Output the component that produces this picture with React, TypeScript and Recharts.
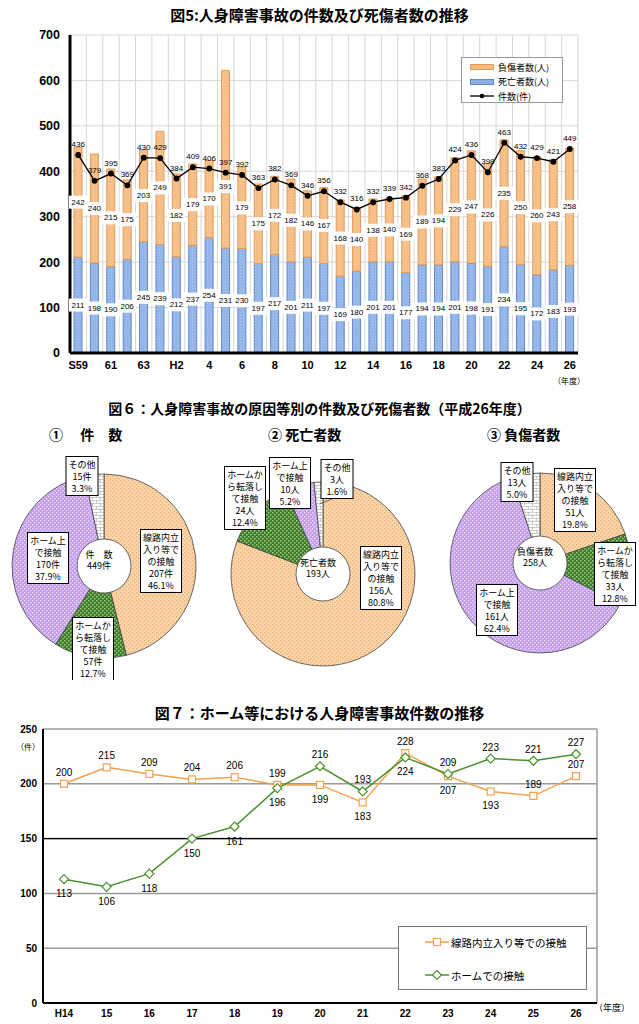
import React from "react";
import {
  ComposedChart,
  Bar,
  Line,
  XAxis,
  YAxis,
  CartesianGrid,
  Legend,
  LabelList,
  PieChart,
  Pie,
  Cell,
  LineChart,
  ReferenceLine,
} from "recharts";

document.body.style.margin = "0";

// ---- 図5 data ----
const years = [
  "S59", "60", "61", "62", "63", "H元", "H2", "3", "4", "5", "6", "7", "8", "9", "10", "11",
  "12", "13", "14", "15", "16", "17", "18", "19", "20", "21", "22", "23", "24", "25", "26",
];
const deaths = [211, 198, 190, 206, 245, 239, 212, 237, 254, 231, 230, 197, 217, 201, 211, 197, 169, 180, 201, 201, 177, 194, 194, 201, 198, 191, 234, 195, 172, 183, 193];
const injuries = [242, 240, 215, 175, 203, 249, 182, 179, 170, 391, 179, 175, 172, 182, 146, 167, 168, 140, 138, 140, 169, 189, 194, 229, 247, 226, 235, 250, 260, 243, 258];
const accidents = [436, 379, 395, 369, 430, 429, 384, 409, 406, 397, 392, 363, 382, 369, 346, 356, 332, 316, 332, 339, 342, 368, 383, 424, 436, 398, 463, 432, 429, 421, 449];

// ---- 図6 data ----
const causes = ["線路内立\n入り等で\nの接触", "ホームか\nら転落し\nて接触", "ホーム上\nで接触", "その他"];
const causeCount = [207, 57, 170, 15];
const causeDeaths = [156, 24, 10, 3];
const causeInjuries = [51, 33, 161, 13];

// ---- 図7 data ----
const years7 = ["H14", "15", "16", "17", "18", "19", "20", "21", "22", "23", "24", "25", "26"];
const trackContact = [200, 215, 209, 204, 206, 199, 199, 183, 228, 207, 193, 189, 207];
const platformContact = [113, 106, 118, 150, 161, 196, 216, 193, 224, 209, 223, 221, 227];

const data5 = years.map((y, i) => ({ year: y, deaths: deaths[i], injuries: injuries[i], accidents: accidents[i] }));
const data7 = years7.map((y, i) => ({ year: y, track: trackContact[i], platform: platformContact[i] }));
const pieCount = causes.map((c, i) => ({ name: c, value: causeCount[i] }));
const pieDeaths = causes.map((c, i) => ({ name: c, value: causeDeaths[i] }));
const pieInjuries = causes.map((c, i) => ({ name: c, value: causeInjuries[i] }));

const JP = '"Noto Sans CJK JP", sans-serif';
const LAT = '"Liberation Sans", Arial, "Noto Sans CJK JP", sans-serif';

const sliceFills = ["url(#pOrange)", "url(#pGreen)", "url(#pPurple)", "url(#pBrick)"];

// label box offsets from each pie centre
const pieLabelPos: Record<string, number[][]> = {
  count: [[57, -5], [-11, 83], [-56, -8], [-22, -90]],
  deaths: [[58, 4], [-78, -76], [-33, -91], [14, -95]],
  injuries: [[35, -63], [75, 11], [-43, 47], [-23, -81]],
};

const textWidth = (t: string) =>
  Array.from(t).reduce((s, ch) => s + (ch.charCodeAt(0) > 255 ? 9 : 5), 0);

const getXY = (p: any) => {
  const vb = p.viewBox || {};
  return {
    x: p.x ?? vb.x,
    y: p.y ?? vb.y,
    w: p.width ?? vb.width ?? 0,
    h: p.height ?? vb.height ?? 0,
  };
};

const drawBoxLabel = (cx: number, cy: number, value: any) => (
  <g>
    <rect x={cx - 9} y={cy - 6.5} width={18} height={13} fill="#fff" />
    <text x={cx} y={cy} textAnchor="middle" dominantBaseline="central" fontSize={8} fontFamily={LAT} fill="#000">
      {value}
    </text>
  </g>
);

const BoxLabel = (p: any) => {
  const { x, y, w, h } = getXY(p);
  return drawBoxLabel(x + w / 2, y + h / 2, p.value);
};

// injury labels: centred in the segment, pushed below the count line if they would collide
const InjuryLabel = (p: any) => {
  const { x, y, w, h } = getXY(p);
  const row = data5[p.index];
  let cy = y + h / 2;
  if (row && h > 0) {
    const perUnit = h / row.injuries;
    const lineY = y + h - (row.accidents - row.deaths) * perUnit;
    if (Math.abs(cy - lineY) < 18) cy = lineY + 14;
  }
  return drawBoxLabel(x + w / 2, cy, p.value);
};

const CountLabel = (p: any) => {
  const { x, y } = getXY(p);
  return (
    <text x={x} y={y - 8} textAnchor="middle" fontSize={8} fontFamily={LAT} fill="#000">
      {p.value}
    </text>
  );
};

const makePieLabel = (key: string, unit: string) => (p: any) => {
  const [dx, dy] = pieLabelPos[key][p.index];
  const lines = [...String(p.name).split("\n"), `${p.value}${unit}`, `${(p.percent * 100).toFixed(1)}%`];
  const lh = 12;
  const w = Math.max(...lines.map(textWidth)) + 5;
  const h = lines.length * lh + 3;
  const bx = p.cx + dx;
  const by = p.cy + dy;
  const RAD = Math.PI / 180;
  const lead = key === "deaths" && p.index === 3;
  return (
    <g key={`pl-${key}-${p.index}`}>
      {lead && (
        <line
          x1={p.cx + 70 * Math.cos(-p.midAngle * RAD)}
          y1={p.cy + 70 * Math.sin(-p.midAngle * RAD)}
          x2={bx - 4}
          y2={by + h / 2}
          stroke="#333"
          strokeWidth={0.7}
        />
      )}
      <rect x={bx - w / 2} y={by - h / 2} width={w} height={h} fill="#fff" stroke="#000" strokeWidth={1} />
      {lines.map((t, i) => (
        <text
          key={i}
          x={bx}
          y={by - h / 2 + 1.5 + lh * i + lh / 2}
          textAnchor="middle"
          dominantBaseline="central"
          fontSize={9}
          fontFamily={JP}
          fill="#000"
        >
          {t}
        </text>
      ))}
    </g>
  );
};

const SquareDot = (p: any) => (
  <rect key={`sq-${p.index}`} x={p.cx - 3.5} y={p.cy - 3.5} width={7} height={7} fill="#fff" stroke="#F0A24E" strokeWidth={1.2} />
);
const DiamondDot = (p: any) => (
  <path
    key={`dm-${p.index}`}
    d={`M${p.cx},${p.cy - 4.5}L${p.cx + 4.5},${p.cy}L${p.cx},${p.cy + 4.5}L${p.cx - 4.5},${p.cy}Z`}
    fill="#fff"
    stroke="#4A922E"
    strokeWidth={1.2}
  />
);

const trackAbove = new Set(["25", "26"]);

const makeLineLabel = (series: "track" | "platform") => (p: any) => {
  const { x, y } = getXY(p);
  const row = data7[p.index];
  const mine = row[series];
  const other = series === "track" ? row.platform : row.track;
  const above = mine >= other || (series === "track" && trackAbove.has(row.year));
  return (
    <text x={x} y={above ? y - 8 : y + 18} textAnchor="middle" fontSize={10} fontFamily={LAT} fill="#000">
      {p.value}
    </text>
  );
};

const legend5 = () => (
  <div style={{ width: 100, height: 44, border: "1px solid #999", background: "#fff", fontFamily: JP, fontSize: 9, position: "relative" }}>
    {[
      { t: "負傷者数(人)", kind: "o" },
      { t: "死亡者数(人)", kind: "b" },
      { t: "件数(件)", kind: "l" },
    ].map((r, i) => (
      <div key={i} style={{ position: "absolute", left: 8, top: 2 + i * 14.5, height: 14, display: "flex", alignItems: "center" }}>
        <svg width={24} height={8} style={{ marginRight: 4 }}>
          {r.kind === "o" && <rect x={0.5} y={1.5} width={23} height={5} fill="#F5BA80" stroke="#E59A55" />}
          {r.kind === "b" && <rect x={0.5} y={1.5} width={23} height={5} fill="#8CB0E6" stroke="#5F89CC" />}
          {r.kind === "l" && (
            <g>
              <line x1={0} y1={4} x2={24} y2={4} stroke="#000" strokeWidth={1.3} />
              <circle cx={12} cy={4} r={2.3} fill="#000" />
            </g>
          )}
        </svg>
        <span style={{ color: "#000" }}>{r.t}</span>
      </div>
    ))}
  </div>
);

const legend7 = () => (
  <div style={{ width: 187, height: 62, border: "1px solid #777", background: "#fff", fontFamily: JP, fontSize: 10.5, position: "relative" }}>
    {[
      { t: "線路内立入り等での接触", c: "#F0A24E", sq: true },
      { t: "ホームでの接触", c: "#4A922E", sq: false },
    ].map((r, i) => (
      <div key={i} style={{ position: "absolute", left: 26, top: 7 + i * 33, height: 16, display: "flex", alignItems: "center" }}>
        <svg width={24} height={12} style={{ marginRight: 2 }}>
          <line x1={0} y1={6} x2={24} y2={6} stroke={r.c} strokeWidth={1.5} />
          {r.sq ? (
            <rect x={8.5} y={2.5} width={7} height={7} fill="#fff" stroke={r.c} strokeWidth={1.2} />
          ) : (
            <path d="M12,1.5L16.5,6L12,10.5L7.5,6Z" fill="#fff" stroke={r.c} strokeWidth={1.2} />
          )}
        </svg>
        <span style={{ color: "#000" }}>{r.t}</span>
      </div>
    ))}
  </div>
);

const dotPattern = (id: string, bg: string, dot: string, size = 4, d = 1.3) => (
  <pattern id={id} width={size} height={size} patternUnits="userSpaceOnUse">
    <rect width={size} height={size} fill={bg} />
    <rect x={0} y={0} width={d} height={d} fill={dot} />
    <rect x={size / 2} y={size / 2} width={d} height={d} fill={dot} />
  </pattern>
);

const titleStyle = (top: number): React.CSSProperties => ({
  position: "absolute",
  top,
  left: 0,
  width: 639,
  textAlign: "center",
  fontFamily: JP,
  fontWeight: 700,
  fontSize: 15,
  lineHeight: "18px",
  color: "#000",
});

const abs = (left: number, top: number, extra: React.CSSProperties = {}): React.CSSProperties => ({
  position: "absolute",
  left,
  top,
  fontFamily: JP,
  color: "#000",
  whiteSpace: "nowrap",
  ...extra,
});

export default function App() {
  return (
    <div style={{ position: "relative", width: 639, height: 1024, background: "#fff", overflow: "hidden" }}>
      {/* 図5 */}
      <div style={titleStyle(6)}>図5:人身障害事故の件数及び死傷者数の推移</div>
      <div style={{ position: "absolute", left: 0, top: 0 }}>
        <ComposedChart width={639} height={392} data={data5} margin={{ top: 35, right: 61, bottom: 14, left: 0 }} barSize={8}>
          <defs>
            {dotPattern("bOrange", "#F5BA80", "#F9D3AC", 3, 1)}
            {dotPattern("bBlue", "#8CB0E6", "#B8CFF2", 3, 1)}
          </defs>
          <CartesianGrid
            stroke="#D6D6D6"
            verticalCoordinatesGenerator={({ offset }: any) =>
              years.map((_, i) => offset.left + (i * offset.width) / years.length).concat(offset.left + offset.width)
            }
          />
          <XAxis
            dataKey="year"
            interval={1}
            height={25}
            tickLine={false}
            axisLine={{ stroke: "#000", strokeWidth: 3 }}
            tick={{ fontSize: 11, fontWeight: 700, fill: "#000", fontFamily: LAT }}
          />
          <YAxis
            width={70}
            domain={[0, 700]}
            ticks={[0, 100, 200, 300, 400, 500, 600, 700]}
            tickLine={false}
            tickMargin={4}
            axisLine={{ stroke: "#000", strokeWidth: 3 }}
            tick={{ fontSize: 12.5, fontWeight: 700, fill: "#000", fontFamily: LAT }}
          />
          <Legend
            layout="vertical"
            align="center"
            verticalAlign="middle"
            content={legend5}
            wrapperStyle={{ left: 461, top: 57, width: 102, height: 46 }}
          />
          <Bar dataKey="deaths" stackId="a" fill="url(#bBlue)" stroke="#5F89CC" strokeWidth={1} isAnimationActive={false}>
            <LabelList dataKey="deaths" content={BoxLabel} />
          </Bar>
          <Bar dataKey="injuries" stackId="a" fill="url(#bOrange)" stroke="#E59A55" strokeWidth={1} isAnimationActive={false}>
            <LabelList dataKey="injuries" content={InjuryLabel} />
          </Bar>
          <Line
            dataKey="accidents"
            stroke="#000"
            strokeWidth={1.3}
            dot={{ r: 2.3, fill: "#000", stroke: "#000" }}
            isAnimationActive={false}
            label={CountLabel}
          />
        </ComposedChart>
      </div>
      <div style={abs(553, 375, { fontSize: 8 })}>（年度）</div>

      {/* 図6 */}
      <div style={{ ...titleStyle(399), fontSize: 14 }}>図６：人身障害事故の原因等別の件数及び死傷者数（平成26年度）</div>
      <div style={abs(49, 424, { fontSize: 14, fontWeight: 700 })}>①　&nbsp;件　数</div>
      <div style={abs(268, 424, { fontSize: 14, fontWeight: 700 })}>② 死亡者数</div>
      <div style={abs(487, 424, { fontSize: 14, fontWeight: 700 })}>③ 負傷者数</div>
      <div style={{ position: "absolute", left: 0, top: 440 }}>
        <PieChart width={639} height={240}>
          <defs>
            {dotPattern("pOrange", "#FBD6AA", "#E9AD70", 4, 1.3)}
            {dotPattern("pGreen", "#3E7B29", "#A4CF87", 4, 1.5)}
            {dotPattern("pPurple", "#C39EF2", "#EBDDFB", 4, 1.4)}
            <pattern id="pBrick" width={8} height={6} patternUnits="userSpaceOnUse">
              <rect width={8} height={6} fill="#fff" />
              <path d="M0,0.3H8M0,3.3H8M0.3,0V3M4.3,3V6" stroke="#9A9A9A" strokeWidth={0.6} fill="none" />
            </pattern>
          </defs>
          <Pie
            data={pieCount}
            dataKey="value"
            nameKey="name"
            cx={99}
            cy={121}
            innerRadius={27}
            outerRadius={92}
            startAngle={90}
            endAngle={-270}
            stroke="#444"
            strokeWidth={0.8}
            labelLine={false}
            label={makePieLabel("count", "件")}
            isAnimationActive={false}
          >
            {pieCount.map((_, i) => (
              <Cell key={`c1-${i}`} fill={sliceFills[i]} />
            ))}
          </Pie>
          <Pie
            data={pieDeaths}
            dataKey="value"
            nameKey="name"
            cx={318}
            cy={129}
            innerRadius={27}
            outerRadius={92}
            startAngle={90}
            endAngle={-270}
            stroke="#444"
            strokeWidth={0.8}
            labelLine={false}
            label={makePieLabel("deaths", "人")}
            isAnimationActive={false}
          >
            {pieDeaths.map((_, i) => (
              <Cell key={`c2-${i}`} fill={sliceFills[i]} />
            ))}
          </Pie>
          <Pie
            data={pieInjuries}
            dataKey="value"
            nameKey="name"
            cx={535}
            cy={118}
            innerRadius={27}
            outerRadius={90}
            startAngle={90}
            endAngle={-270}
            stroke="#444"
            strokeWidth={0.8}
            labelLine={false}
            label={makePieLabel("injuries", "人")}
            isAnimationActive={false}
          >
            {pieInjuries.map((_, i) => (
              <Cell key={`c3-${i}`} fill={sliceFills[i]} />
            ))}
          </Pie>
        </PieChart>
      </div>
      {[
        { x: 99, y: 561, a: "件　数", b: "449件" },
        { x: 318, y: 569, a: "死亡者数", b: "193人" },
        { x: 535, y: 558, a: "負傷者数", b: "258人" },
      ].map((c, i) => (
        <div key={i} style={abs(c.x - 25, c.y - 12, { width: 50, textAlign: "center", fontSize: 9, lineHeight: "11px" })}>
          {c.a}
          <br />
          {c.b}
        </div>
      ))}

      {/* 図7 */}
      <div style={titleStyle(704)}>図７：ホーム等における人身障害事故件数の推移</div>
      <div style={{ position: "absolute", left: 0, top: 700 }}>
        <LineChart width={639} height={324} data={data7} margin={{ top: 29, right: 42, bottom: 3, left: 0 }}>
          <CartesianGrid
            stroke="#9A9A9A"
            strokeWidth={1.5}
            verticalCoordinatesGenerator={({ offset }: any) => [offset.left + offset.width]}
          />
          <ReferenceLine y={150} stroke="#000" strokeWidth={1.2} />
          <XAxis
            dataKey="year"
            height={18}
            padding={{ left: 21, right: 21 }}
            tickLine={false}
            tickMargin={1}
            axisLine={{ stroke: "#000", strokeWidth: 2 }}
            tick={{ fontSize: 10, fontWeight: 700, fill: "#000", fontFamily: LAT }}
          />
          <YAxis
            width={43}
            domain={[0, 250]}
            ticks={[0, 50, 100, 150, 200, 250]}
            tickLine={false}
            tickMargin={0}
            axisLine={{ stroke: "#000", strokeWidth: 2 }}
            tick={{ fontSize: 10, fontWeight: 700, fill: "#000", fontFamily: LAT }}
          />
          <Legend
            layout="vertical"
            align="center"
            verticalAlign="middle"
            content={legend7}
            wrapperStyle={{ left: 398, top: 226, width: 189, height: 64 }}
          />
          <Line
            dataKey="track"
            stroke="#F0A24E"
            strokeWidth={1.5}
            dot={SquareDot}
            isAnimationActive={false}
            label={makeLineLabel("track")}
          />
          <Line
            dataKey="platform"
            stroke="#4A922E"
            strokeWidth={1.5}
            dot={DiamondDot}
            isAnimationActive={false}
            label={makeLineLabel("platform")}
          />
        </LineChart>
      </div>
      <div style={abs(16, 741, { fontSize: 8 })}>（件）</div>
      <div style={abs(594, 1001, { fontSize: 9 })}>（年度）</div>
    </div>
  );
}
